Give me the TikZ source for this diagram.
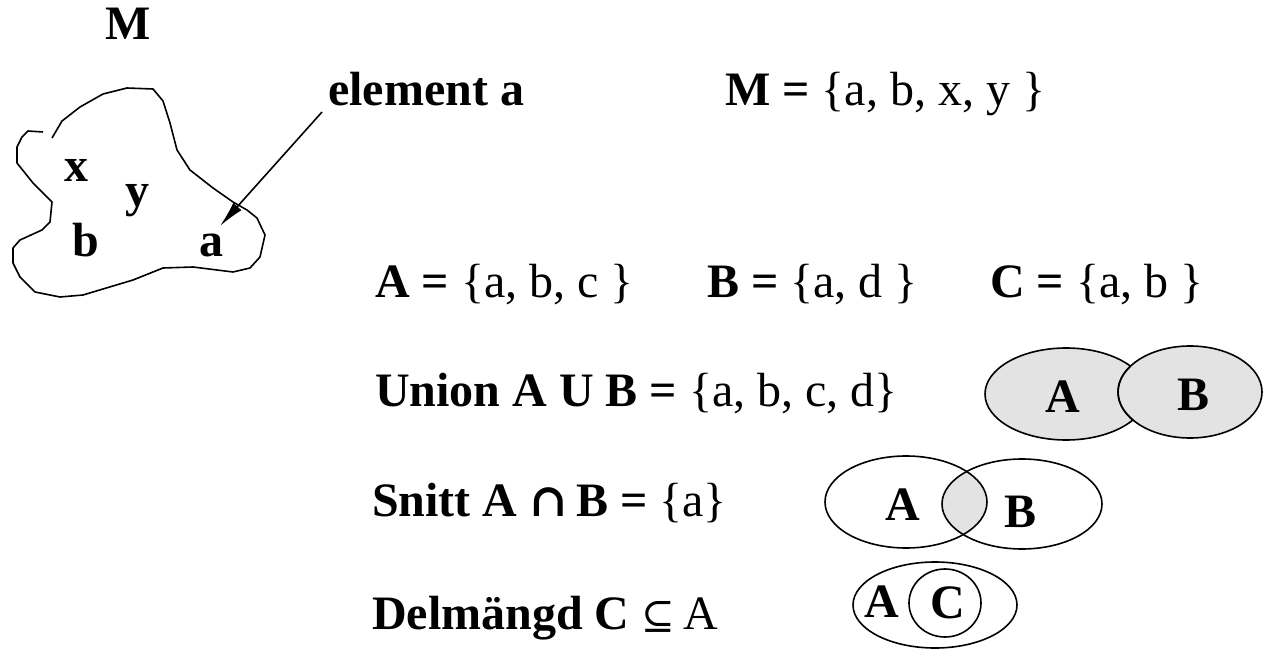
\documentclass[tikz,border=0pt]{standalone}
\usepackage{fontspec}
\setmainfont{Liberation Serif}
\newfontfamily\symfont{DejaVu Serif}
\usetikzlibrary{arrows.meta}
\begin{document}
\begin{tikzpicture}[x=1pt,y=-1pt,
  txt/.style={inner sep=0pt,anchor=base west,font=\fontsize{48}{54}\selectfont},
  lbl/.style={inner sep=0pt,anchor=base,font=\fontsize{48}{54}\selectfont\bfseries},
  outline/.style={line width=1.6pt},
  shade/.style={fill=black!11}]
\useasboundingbox (0,0) rectangle (1264,652);
% blob M
\draw[outline,line join=round] (43,132) -- (28,131) -- (22,137) -- (17,147) -- (17,163) -- (33,183) -- (52,202) -- (50,222) -- (42,230) -- (20,240) -- (13,248) -- (13,263) -- (20,277) -- (35,292) -- (60,297) -- (83,295) -- (133,280) -- (163,268) -- (193,267) -- (233,272) -- (250,268) -- (260,257) -- (265,235) -- (257,218) -- (247,210) -- (233,202) -- (213,188) -- (190,170) -- (177,150) -- (170,123) -- (163,101) -- (153,89) -- (127,88) -- (103,94) -- (80,107) -- (62,121) -- (52,138);
\node[lbl] (M) at (128,40) {M};
\node[lbl] (x) at (76,182) {x};
\node[lbl] (y) at (137,207) {y};
\node[lbl] (b) at (86,257) {b};
\node[lbl] (a) at (211,257) {a};
\node[txt,font=\fontsize{48}{54}\selectfont\bfseries] (elem) at (328,106) {element a};
\coordinate (start) at (322,112);
\coordinate (tip) at (220,226);
\draw[line width=1.6pt,-{Latex[length=26pt,width=11pt]}] (start) -- (tip);
\node[txt] (Mset) at (725,106) {\textbf{M =} \{a, b, x, y \}};
\node[txt] (Aset) at (375,298) {\textbf{A =} \{a, b, c \}};
\node[txt] (Bset) at (707,298) {\textbf{B =} \{a, d \}};
\node[txt] (Cset) at (990,298) {\textbf{C =} \{a, b \}};
\node[txt] (union) at (375,406) {\textbf{Union A U B =} \{a, b, c, d\}};
\node[txt] (snitt) at (372,516) {\textbf{Snitt A {\symfont\fontsize{46}{50}\selectfont ∩}\,B =} \{a\}};
\node[txt] (delm) at (372,629) {\textbf{Delmängd C} {\symfont\fontsize{40}{44}\selectfont ⊆}\,A};
% union
\draw[outline,shade] (1066,394) ellipse [x radius=81,y radius=46];
\draw[outline,shade] (1190,392) ellipse [x radius=72,y radius=46];
\begin{scope}
\clip (1066,394) ellipse [x radius=81,y radius=46];
\draw[outline] (1190,392) ellipse [x radius=72,y radius=46];
\end{scope}
\node[lbl] (uA) at (1063,412) {A};
\node[lbl] (uB) at (1193,410) {B};
% snitt
\begin{scope}
\clip (906,502) ellipse [x radius=81,y radius=46];
\fill[shade] (1022,504) ellipse [x radius=80,y radius=45];
\end{scope}
\draw[outline] (906,502) ellipse [x radius=81,y radius=46];
\draw[outline] (1022,504) ellipse [x radius=80,y radius=45];
\node[lbl] (sA) at (903,520) {A};
\node[lbl] (sB) at (1020,527) {B};
% delmangd
\draw[outline] (935,605) ellipse [x radius=82,y radius=43];
\draw[outline] (945,603) ellipse [x radius=36,y radius=34];
\node[lbl] (dA) at (882,617) {A};
\node[lbl] (dC) at (948,618) {C};
\end{tikzpicture}
\end{document}
